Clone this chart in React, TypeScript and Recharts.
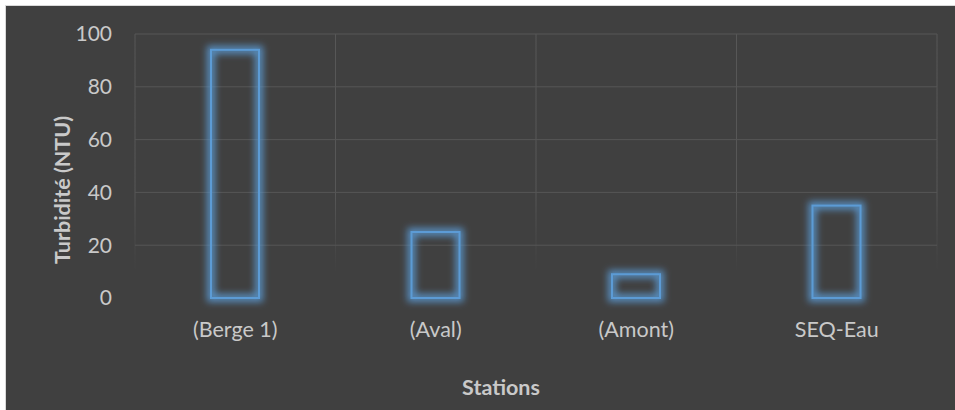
import React from 'react';
import { BarChart, Bar, XAxis, YAxis, CartesianGrid, Label } from 'recharts';

// Turbidity measured at each sampling station (NTU)
const stations = ['(Berge 1)', '(Aval)', '(Amont)', 'SEQ-Eau'];
const turbidity = [94, 25, 9, 35];

// Value axis
const yTicks = [0, 20, 40, 60, 80, 100];
const gridLevels = [20, 40, 60, 80, 100];

const data = stations.map((station, i) => ({ station, turbidity: turbidity[i] }));

const FONT = 'Lato, "Open Sans", sans-serif';
const TEXT = '#c9c9c9';
const BLUE = '#5b9bd5';

// Outlined bar with a soft blue glow
const GlowBar = (props: any) => {
  const { x, y, width, height } = props;
  if (width == null || height == null) return null;
  return (
    <rect
      x={x}
      y={y}
      width={width}
      height={height}
      fill="none"
      stroke={BLUE}
      strokeWidth={2}
      filter="url(#barGlow)"
    />
  );
};

export default function App() {
  return (
    <div style={{ position: 'absolute', left: 0, top: 0, width: 955, height: 410, background: '#ffffff' }}>
      <svg width={0} height={0} style={{ position: 'absolute' }}>
        <defs>
          <filter id="barGlow" x="-60%" y="-60%" width="220%" height="220%">
            <feMorphology in="SourceGraphic" operator="dilate" radius="2.5" result="thick" />
            <feGaussianBlur in="thick" stdDeviation="3.5" result="blur" />
            <feComponentTransfer in="blur" result="softBlur">
              <feFuncA type="linear" slope="0.85" />
            </feComponentTransfer>
            <feMerge>
              <feMergeNode in="softBlur" />
              <feMergeNode in="SourceGraphic" />
            </feMerge>
          </filter>
          <linearGradient id="vGridFade" gradientUnits="userSpaceOnUse" x1="0" y1="28" x2="0" y2="292">
            <stop offset="0%" stopColor="#575757" stopOpacity={1} />
            <stop offset="60%" stopColor="#575757" stopOpacity={1} />
            <stop offset="90%" stopColor="#575757" stopOpacity={0} />
          </linearGradient>
        </defs>
      </svg>
      <div
        style={{
          position: 'absolute',
          left: 5,
          top: 5,
          width: 950,
          height: 405,
          boxSizing: 'border-box',
          borderLeft: '1px solid #d9d9d9',
          borderTop: '1px solid #d9d9d9',
          background: '#404040',
        }}
      >
        <BarChart
          width={949}
          height={404}
          data={data}
          margin={{ top: 28, right: 18, bottom: 0, left: 0 }}
          barCategoryGap={0}
        >
          <CartesianGrid
            horizontal={false}
            vertical
            stroke="url(#vGridFade)"
            verticalCoordinatesGenerator={({ offset }: any) =>
              Array.from({ length: data.length + 1 }, (_, i) => offset.left + (i * offset.width) / data.length)
            }
          />
          <CartesianGrid vertical={false} horizontalValues={gridLevels} stroke="#565656" />
          <XAxis
            dataKey="station"
            axisLine={false}
            tickLine={false}
            tickSize={0}
            tickMargin={24}
            height={112}
            interval={0}
            tick={{ fill: TEXT, fontSize: 21.5, fontFamily: FONT }}
          >
            <Label
              content={({ viewBox }: any) => (
                <text
                  x={viewBox.x + viewBox.width / 2 - 35}
                  y={viewBox.y + 97}
                  textAnchor="middle"
                  fill={TEXT}
                  fontSize={21.5}
                  fontWeight={700}
                  fontFamily={FONT}
                >
                  Stations
                </text>
              )}
            />
          </XAxis>
          <YAxis
            domain={[0, 100]}
            ticks={yTicks}
            axisLine={false}
            tickLine={false}
            tickSize={0}
            tickMargin={23}
            width={129}
            tick={{ fill: TEXT, fontSize: 21, fontFamily: FONT }}
          >
            <Label
              content={({ viewBox }: any) => {
                const cx = 56;
                const cy = viewBox.y + viewBox.height / 2 + 24;
                return (
                  <text
                    x={cx}
                    y={cy}
                    transform={`rotate(-90 ${cx} ${cy})`}
                    textAnchor="middle"
                    dominantBaseline="central"
                    fill={TEXT}
                    fontSize={21.5}
                    fontWeight={700}
                    fontFamily={FONT}
                  >
                    Turbidité (NTU)
                  </text>
                );
              }}
            />
          </YAxis>
          <Bar dataKey="turbidity" barSize={48} shape={GlowBar} isAnimationActive={false} />
        </BarChart>
      </div>
    </div>
  );
}
